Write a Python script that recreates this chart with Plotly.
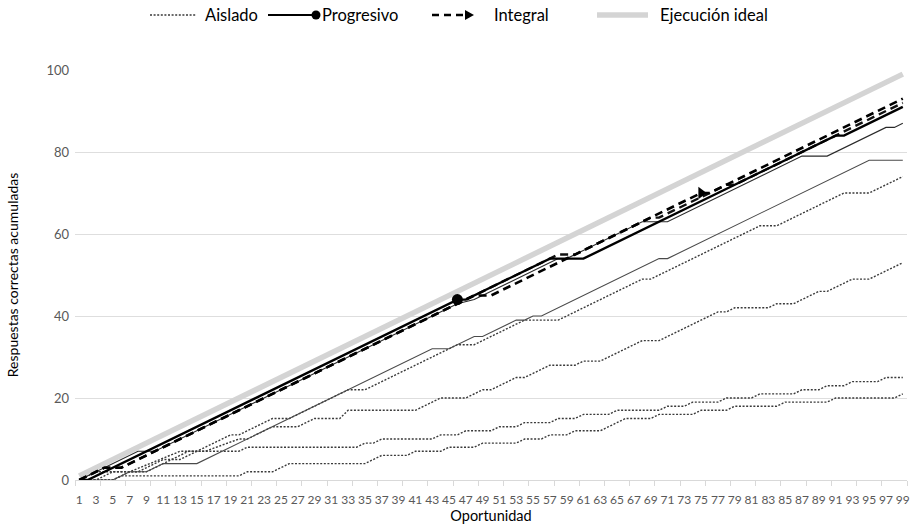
import plotly.graph_objects as go

# Opportunities 1..99 on the x axis; cumulative correct responses on y.
# Each series is stored as breakpoints (opportunity, cumulative correct).

ideal_x = [1, 99]
ideal_y = [1, 99]

# Aislado (dotted)
ais1_x = [1, 3, 5, 7, 13, 15, 19, 20, 24, 26, 33, 35, 46, 48, 54, 58, 68, 69, 76, 82, 84, 92, 95, 99]
ais1_y = [0, 0, 2, 2, 7, 7, 11, 11, 15, 15, 22, 22, 33, 33, 39, 39, 49, 49, 56, 62, 62, 70, 70, 74]

ais2_x = [1, 5, 7, 9, 14, 16, 20, 21, 24, 27, 29, 32, 33, 41, 44, 47, 49, 50, 53, 54, 57, 60, 61, 63, 68, 70,
          77, 78, 79, 83, 84, 86, 89, 90, 93, 95, 98, 99]
ais2_y = [0, 0, 2, 2, 7, 7, 10, 10, 13, 13, 15, 15, 17, 17, 20, 20, 22, 22, 25, 25, 28, 28, 29, 29, 34, 34,
          41, 41, 42, 42, 43, 43, 46, 46, 49, 49, 52, 53]

ais3_x = [1, 2, 3, 8, 11, 13, 15, 20, 21, 34, 35, 36, 37, 43, 44, 46, 47, 50, 51, 53, 54, 57, 58, 60, 61, 64,
          65, 70, 71, 73, 74, 77, 78, 81, 82, 86, 87, 89, 90, 92, 93, 96, 97, 99]
ais3_y = [0, 1, 2, 2, 5, 5, 7, 7, 8, 8, 9, 9, 10, 10, 11, 11, 12, 12, 13, 13, 14, 14, 15, 15, 16, 16,
          17, 17, 18, 18, 19, 19, 20, 20, 21, 21, 22, 22, 23, 23, 24, 24, 25, 25]

ais4_x = [1, 2, 5, 6, 20, 21, 24, 26, 35, 37, 40, 41, 44, 45, 48, 49, 53, 54, 56, 57, 59, 60, 63, 64, 65, 66, 69,
          70, 74, 75, 78, 79, 84, 85, 90, 91, 98, 99]
ais4_y = [0, 0, 0, 1, 1, 2, 2, 4, 4, 6, 6, 7, 7, 8, 8, 9, 9, 10, 10, 11, 11, 12, 12, 13, 14, 15, 15,
          16, 16, 17, 17, 18, 18, 19, 19, 20, 20, 21]

# Progresivo (solid)
prog1_x = [1, 2, 46, 47, 57, 61, 91, 92, 99]
prog1_y = [0, 0, 44, 44, 54, 54, 84, 84, 91]

prog2_x = [1, 8, 10, 46, 48, 58, 59, 68, 71, 87, 90, 97, 98, 99]
prog2_y = [0, 7, 7, 43, 44, 54, 54, 63, 63, 79, 79, 86, 86, 87]

prog3_x = [1, 5, 7, 9, 11, 15, 43, 45, 48, 49, 53, 54, 55, 56, 70, 71, 95, 99]
prog3_y = [0, 0, 2, 2, 4, 4, 32, 32, 35, 35, 39, 39, 40, 40, 54, 54, 78, 78]

# Integral (dashed)
integ1_x = [1, 4, 6, 48, 50, 75, 76, 99]
integ1_y = [0, 3, 3, 45, 45, 70, 70, 93]

integ2_x = [1, 4, 6, 46, 58, 60, 69, 70, 78, 79, 99]
integ2_y = [0, 3, 3, 43, 55, 55, 64, 64, 72, 72, 92]

# Phase-change markers
prog_mark = (46, 44)
integ_mark = (75, 70)

x_ticks = list(range(1, 100, 2))
y_ticks = [0, 20, 40, 60, 80, 100]

FONT = "Lato"
DOT = "2px,1.6px"
DASH = "8px,5px"

fig = go.Figure()

fig.add_trace(go.Scatter(x=ideal_x, y=ideal_y, mode="lines",
                         line=dict(color="#d4d4d4", width=5.5)))

for xs, ys in [(ais1_x, ais1_y), (ais2_x, ais2_y), (ais3_x, ais3_y), (ais4_x, ais4_y)]:
    fig.add_trace(go.Scatter(x=xs, y=ys, mode="lines",
                             line=dict(color="#3a3a3a", width=1.4, dash=DOT)))

fig.add_trace(go.Scatter(x=prog3_x, y=prog3_y, mode="lines",
                         line=dict(color="#4a4a4a", width=1.1)))
fig.add_trace(go.Scatter(x=prog2_x, y=prog2_y, mode="lines",
                         line=dict(color="#2a2a2a", width=1.1)))

fig.add_trace(go.Scatter(x=integ2_x, y=integ2_y, mode="lines",
                         line=dict(color="#111111", width=2.4, dash=DASH)))
fig.add_trace(go.Scatter(x=integ1_x, y=integ1_y, mode="lines",
                         line=dict(color="#000000", width=2.6, dash=DASH)))
fig.add_trace(go.Scatter(x=prog1_x, y=prog1_y, mode="lines",
                         line=dict(color="#000000", width=2.4)))

fig.add_trace(go.Scatter(x=[prog_mark[0]], y=[prog_mark[1]], mode="markers",
                         marker=dict(symbol="circle", size=11, color="#000000")))
fig.add_trace(go.Scatter(x=[integ_mark[0]], y=[integ_mark[1]], mode="markers",
                         marker=dict(symbol="triangle-right", size=11, color="#000000")))

# Plot area geometry (pixels) used to place the custom legend
W, H = 913, 526
L, R, T, B = 75, 6, 70, 46
PW, PH = W - L - R, H - T - B


def px(xp):
    return (xp - L) / PW


def py(yp):
    return (H - B - yp) / PH


LEG_Y = 15
shapes = []
annotations = []

# Aislado
shapes.append(dict(type="line", xref="paper", yref="paper", x0=px(150), x1=px(196),
                   y0=py(LEG_Y), y1=py(LEG_Y), line=dict(color="#3a3a3a", width=1.4, dash=DOT)))
annotations.append(dict(text="Aislado", xref="paper", yref="paper", x=px(203), y=py(LEG_Y),
                        xanchor="left", yanchor="middle", showarrow=False))
# Progresivo
shapes.append(dict(type="line", xref="paper", yref="paper", x0=px(268), x1=px(314),
                   y0=py(LEG_Y), y1=py(LEG_Y), line=dict(color="#000000", width=2)))
r = 4.5
shapes.append(dict(type="circle", xref="paper", yref="paper", x0=px(316 - r), x1=px(316 + r),
                   y0=py(LEG_Y + r), y1=py(LEG_Y - r), fillcolor="#000000", line=dict(width=0)))
annotations.append(dict(text="Progresivo", xref="paper", yref="paper", x=px(320), y=py(LEG_Y),
                        xanchor="left", yanchor="middle", showarrow=False))
# Integral
shapes.append(dict(type="line", xref="paper", yref="paper", x0=px(432), x1=px(464),
                   y0=py(LEG_Y), y1=py(LEG_Y), line=dict(color="#000000", width=2.4, dash="7px,5px")))
tri = "M {a},{b} L {c},{d} L {e},{f} Z".format(a=px(465), b=py(LEG_Y - 5), c=px(474), d=py(LEG_Y),
                                                e=px(465), f=py(LEG_Y + 5))
shapes.append(dict(type="path", xref="paper", yref="paper", path=tri,
                   fillcolor="#000000", line=dict(width=0)))
annotations.append(dict(text="Integral", xref="paper", yref="paper", x=px(492), y=py(LEG_Y),
                        xanchor="left", yanchor="middle", showarrow=False))
# Ejecución ideal
shapes.append(dict(type="line", xref="paper", yref="paper", x0=px(597), x1=px(648),
                   y0=py(LEG_Y), y1=py(LEG_Y), line=dict(color="#d4d4d4", width=5.5)))
annotations.append(dict(text="Ejecución ideal", xref="paper", yref="paper", x=px(658), y=py(LEG_Y),
                        xanchor="left", yanchor="middle", showarrow=False))

for a in annotations:
    a["font"] = dict(family=FONT, size=16.5, color="#000000")

fig.update_layout(
    width=W, height=H,
    margin=dict(l=L, r=R, t=T, b=B),
    paper_bgcolor="white", plot_bgcolor="white",
    showlegend=False,
    font=dict(family=FONT, color="#595959", size=13),
    shapes=shapes, annotations=annotations,
)

fig.update_xaxes(
    range=[0.5, 99.5], tickmode="array", tickvals=x_ticks,
    ticktext=[str(v) for v in x_ticks], tickangle=0,
    tickfont=dict(family=FONT, size=12, color="#595959"),
    ticks="", ticklabelstandoff=9, showgrid=False, zeroline=False,
    showline=True, linecolor="#d9d9d9", linewidth=1, automargin=False,
    minor=dict(tick0=0.5, dtick=3, ticks="outside", ticklen=5, tickcolor="#d9d9d9", showgrid=False),
    title=dict(text="Oportunidad", font=dict(family=FONT, size=14.5, color="#000000"), standoff=1),
)
fig.update_yaxes(
    range=[0, 100], tickmode="array", tickvals=y_ticks,
    tickfont=dict(family=FONT, size=13, color="#595959"),
    ticks="", ticklabelstandoff=5, showgrid=True, gridcolor="#dedede", gridwidth=1, zeroline=False,
    showline=False, automargin=False,
    title=dict(text="Respuestas correctas acumuladas",
               font=dict(family=FONT, size=14, color="#000000"), standoff=24),
)

fig.write_html("out.html")
